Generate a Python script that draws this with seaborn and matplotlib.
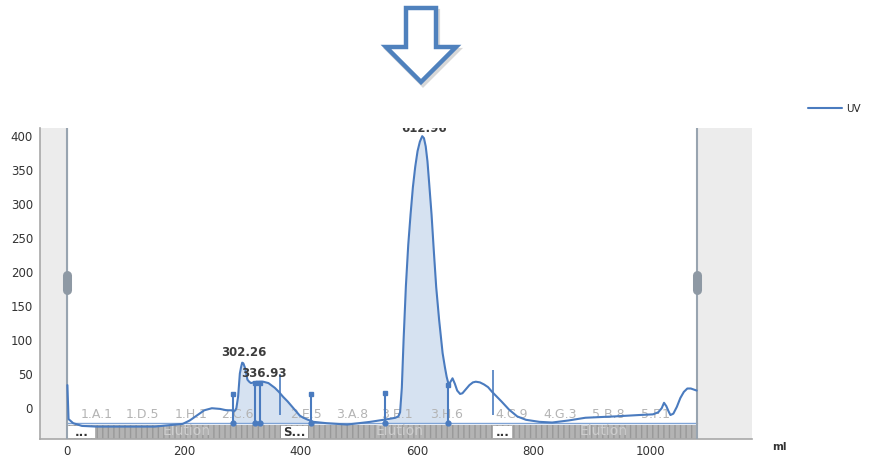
import numpy as np
import matplotlib
matplotlib.use('Agg')
import matplotlib.pyplot as plt
import seaborn as sns
from matplotlib.patches import Polygon, Rectangle

# UV trace (ml, mAU)
uv_ml = [0, 2, 10, 25, 50, 100, 150, 198, 210, 220, 235, 248, 262, 273, 282, 285, 288, 290,
         293, 296, 298, 300, 302, 305, 309, 312, 315, 320, 325, 330, 336, 345, 356, 363,
         370, 378, 385, 392, 399, 405, 413, 422, 445, 480, 520, 550, 563, 568, 571, 574,
         577, 581, 585, 589, 593, 597, 601, 605, 609, 612, 615, 618,
         621, 625, 629, 633, 638, 644, 648, 651, 654, 657, 661, 665, 669, 674, 678, 684,
         690, 696, 701, 708, 715, 722, 729, 737, 745, 758, 772, 787, 810, 832, 860, 889,
         940, 981, 1005, 1014, 1020, 1024, 1028, 1032, 1035, 1040, 1046, 1052, 1058, 1064,
         1070, 1080]
uv_mau = [34, -16, -22, -26, -27, -27, -27, -23, -18, -12, -3, 0, -1, -3, -3, -5, -3, 0,
          17, 51, 60, 67, 66, 59, 42, 39, 37, 38, 39, 39, 39, 37, 30, 24,
          17, 10, 3, -4, -11, -14, -17, -20, -22, -24, -20, -16, -14, -12, -6, 30,
          100, 180, 240, 285, 325, 355, 378, 392, 400, 397, 385, 363,
          330, 285, 230, 178, 130, 81, 60, 46, 36, 38, 44, 36, 26, 21, 22, 28,
          34, 38, 39, 38, 35, 31, 24, 17, 10, -2, -12, -17, -20, -21, -18, -14,
          -12, -10, -9, -6, 0, 8, 3, -5, -10, -8, 2, 15, 24, 29,
          29, 26]

# peaks
peak_ml = [302.26, 336.93, 612.96]
peak_lbl_y = [72, 41, 401]

# peak boundary markers (ml, top mAU)
mark_ml = [285, 322, 330, 418, 545, 654]
mark_top = [21, 37, 37, 21, 22, 34]
# plain vertical event lines
event_ml = [365, 730]
event_top = [51, 56]
event_bot = [-10, -10]

# fraction labels
frac_names = ['1.A.1', '1.D.5', '1.H.1', '2.C.6', '2.E.5', '3.A.8', '3.E.1', '3.H.6',
              '4.C.9', '4.G.3', '5.B.8', '5.F.1']
frac_ml = [50, 128, 212, 292, 410, 489, 566, 651, 762, 846, 928, 1010]

# phase band: white boxes and "Elution" text
box_start = [0, 366, 730]
box_end = [48, 413, 763]
box_text = ['...', 'S...', '...']
elution_ml = [205, 570, 921]

baseline = -22
line_col = '#4a7bbf'

sns.set_style('white')
plt.rcParams['font.family'] = ['DejaVu Sans']

fig = plt.figure(figsize=(8.69, 4.58), dpi=100)
ax = fig.add_axes([40 / 869, 1 - 438.5 / 458, (752 - 40) / 869, (438.5 - 128) / 458])

x = np.array(uv_ml, dtype=float)
y = np.array(uv_mau, dtype=float)

# shaded peak areas
for lo, hi in [(285, 418), (545, 654)]:
    m = (x >= lo) & (x <= hi)
    ax.fill_between(x[m], baseline, y[m], color='#d6e2f1', lw=0, zorder=1)

sns.lineplot(x=uv_ml, y=uv_mau, ax=ax, color=line_col, lw=1.5, sort=False,
             label='UV', zorder=4)

# integration baseline
ax.plot([0, 1080], [baseline, baseline], color='#7ea3d6', lw=1, zorder=3)

# peak markers
ax.vlines(mark_ml, baseline, mark_top, color=line_col, lw=1.5, zorder=5)
ax.plot(mark_ml, mark_top, 's', color=line_col, ms=3, zorder=5)
ax.plot(mark_ml, [baseline] * len(mark_ml), 'o', color=line_col, ms=3.5, zorder=5)
ax.vlines(event_ml, event_bot, event_top, color=line_col, lw=1.2, zorder=5)

for px, py in zip(peak_ml, peak_lbl_y):
    ax.text(px, py, f'{px:.2f}', ha='center', va='bottom', fontsize=8.5, fontweight='bold',
            color='#3c3c3c', zorder=6, clip_on=True)

for name, fx in zip(frac_names, frac_ml):
    ax.text(fx, -9, name, ha='center', va='center', fontsize=9, color='#b4b4b4', zorder=2)

# bottom phase band
ax.fill_between([0, 1080], -44.5, -25, facecolor='#b3b3b3', edgecolor='#989898',
                hatch='|||', lw=0, zorder=2)
for s, e, t in zip(box_start, box_end, box_text):
    ax.add_patch(Rectangle((s, -43.5), e - s, 17.5, facecolor='white', edgecolor='none', zorder=3))
    ax.text((s + e) / 2, -35, t, ha='center', va='center', fontsize=8.5, fontweight='bold',
            color='#333333', zorder=4)
for ex in elution_ml:
    ax.text(ex, -34, 'Elution', ha='center', va='center', fontsize=10, color='#cdcdcd',
            zorder=3, clip_on=True)

# grey excluded regions with handles
ax.axvspan(-47, 0, color='#ececec', zorder=0)
ax.axvspan(1080, 1175, color='#ececec', zorder=0)
ax.axvline(0, color='#98a4b0', lw=1.5, zorder=3)
ax.axvline(1080, color='#98a4b0', lw=1.5, zorder=3)
for hx in [0, 1080]:
    ax.plot([hx, hx], [174, 196], color='#8e99a4', lw=6.5, solid_capstyle='round', zorder=6)

ax.set_xlim(-47, 1175)
ax.set_ylim(-44.5, 412)
ax.set_xticks(np.arange(0, 1001, 200))
ax.set_xticks(np.arange(100, 1101, 200), minor=True)
ax.set_yticks(np.arange(0, 401, 50))
ax.set_yticks(np.arange(-25, 401, 50), minor=True)
ax.tick_params(axis='both', which='both', direction='out', color='#a0a0a0', labelsize=8.5,
               labelcolor='#333333', length=3, width=0.8, pad=2)
ax.tick_params(axis='both', which='minor', length=2.5)
ax.set_xlabel('')
ax.set_ylabel('')
for side in ['top', 'right']:
    ax.spines[side].set_visible(False)
for side in ['left', 'bottom']:
    ax.spines[side].set_color('#a8a8a8')
    ax.spines[side].set_linewidth(1.2)

ax.legend(loc='center left', bbox_to_anchor=(808 / 869, 1 - 109 / 458),
          bbox_transform=fig.transFigure, frameon=False, fontsize=7.5,
          handlelength=3.3, handletextpad=0.4, borderpad=0, borderaxespad=0)

fig.text(779 / 869, 1 - 447 / 458, 'ml', fontsize=7.5, fontweight='bold',
         color='#333333', ha='center', va='center')

# down arrow above the chart
arrow_px = [(406, 8), (436, 8), (436, 47), (456, 47), (421, 82), (386, 47), (406, 47)]
shadow = [((px + 2) / 869, 1 - (py + 3) / 458) for px, py in arrow_px]
fig.patches.append(Polygon(shadow, closed=True, facecolor='none', edgecolor='#c8c8c8',
                           lw=3, joinstyle='miter', transform=fig.transFigure, alpha=0.7))
pts = [(px / 869, 1 - py / 458) for px, py in arrow_px]
fig.patches.append(Polygon(pts, closed=True, facecolor='white', edgecolor='#4f81bd',
                           lw=3.2, joinstyle='miter', transform=fig.transFigure))

fig.savefig('out.png', dpi=100)
